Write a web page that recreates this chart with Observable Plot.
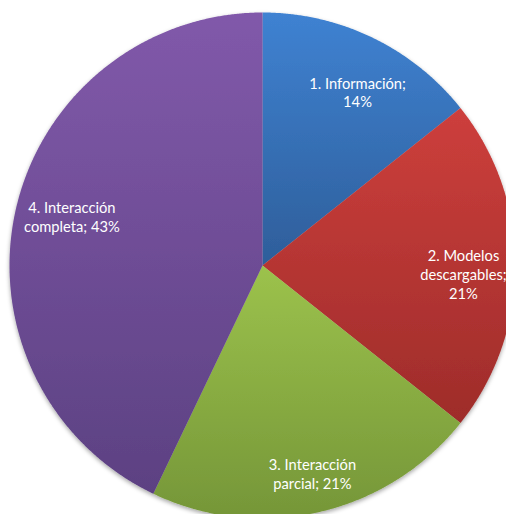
<!DOCTYPE html>
<html><head><meta charset="utf-8">
<script src="https://cdn.jsdelivr.net/npm/d3@7"></script>
<script src="https://cdn.jsdelivr.net/npm/@observablehq/plot@0.6"></script>
<style>body{margin:0;background:#fff;overflow:hidden}</style>
</head><body><div id="chart"></div>
<script>
// Data
const categoryLines = [["1. Información"], ["2. Modelos", "descargables"], ["3. Interacción", "parcial"], ["4. Interacción", "completa"]];
const values = [14.3, 21.4, 21.4, 42.9];
const valueSeparators = ["\n", "\n", " ", " "];
const colorsTop = ["#3f82d2", "#cd3f3c", "#9cc24c", "#8159aa"];
const colorsBottom = ["#2e5e9a", "#9e2c2a", "#759638", "#5c4182"];

// Layout
const W = 506, H = 514, cx = 262, cy = 265, R = 253;
const labelPolar = [[28.7, 0.782], [92.4, 0.795], [166.5, 0.846], [284.4, 0.778]]; // [deg, radius fraction]

const total = d3.sum(values);
const arcs = d3.pie().sort(null).value(d => d)(values);
const pts = [];
arcs.forEach((a, i) => {
  const n = Math.max(2, Math.ceil((a.endAngle - a.startAngle) / 0.005));
  pts.push({i, x: 0, y: 0, g: `url(#grad${i})`});
  for (let k = 0; k <= n; k++) {
    const t = a.startAngle + (a.endAngle - a.startAngle) * k / n;
    pts.push({i, x: Math.sin(t), y: Math.cos(t), g: `url(#grad${i})`});
  }
  pts.push({i, x: 0, y: 0, g: `url(#grad${i})`});
});
const labels = values.map((v, i) => {
  const [deg, rf] = labelPolar[i];
  const t = deg * Math.PI / 180;
  return {
    x: rf * Math.sin(t), y: rf * Math.cos(t),
    text: categoryLines[i].join("\n") + ";" + valueSeparators[i] + Math.round(v / total * 100) + "%"
  };
});

const plot = Plot.plot({
  width: W, height: H,
  marginTop: 0, marginRight: 0, marginBottom: 0, marginLeft: 0,
  x: {domain: [-cx / R, (W - cx) / R], axis: null},
  y: {domain: [-(H - cy) / R, cy / R], axis: null},
  color: {type: "identity"},
  style: {fontFamily: "Lato, 'Open Sans', sans-serif", background: "white"},
  marks: [
    Plot.line(pts, {x: "x", y: "y", z: "i", fill: "g", stroke: "none", curve: "linear"}),
    Plot.text(labels, {x: "x", y: "y", text: "text", fill: "white", fontSize: 14.7, lineHeight: 1.28, textAnchor: "middle"})
  ]
});

const svgNS = "http://www.w3.org/2000/svg";
const defs = document.createElementNS(svgNS, "defs");
colorsTop.forEach((c, i) => {
  const lg = document.createElementNS(svgNS, "linearGradient");
  lg.setAttribute("id", `grad${i}`);
  lg.setAttribute("x1", "0"); lg.setAttribute("y1", "0");
  lg.setAttribute("x2", "0"); lg.setAttribute("y2", "1");
  [[0, c], [1, colorsBottom[i]]].forEach(([o, col]) => {
    const s = document.createElementNS(svgNS, "stop");
    s.setAttribute("offset", o); s.setAttribute("stop-color", col);
    lg.appendChild(s);
  });
  defs.appendChild(lg);
});
const f = document.createElementNS(svgNS, "filter");
f.setAttribute("id", "pieShadow");
f.setAttribute("x", "-10%"); f.setAttribute("y", "-10%");
f.setAttribute("width", "120%"); f.setAttribute("height", "120%");
const ds = document.createElementNS(svgNS, "feDropShadow");
ds.setAttribute("dx", "0"); ds.setAttribute("dy", "2");
ds.setAttribute("stdDeviation", "2"); ds.setAttribute("flood-color", "#000"); ds.setAttribute("flood-opacity", "0.35");
f.appendChild(ds);
defs.appendChild(f);
plot.insertBefore(defs, plot.firstChild);
const lineG = plot.querySelector("g[aria-label='line']");
if (lineG) lineG.setAttribute("filter", "url(#pieShadow)");
document.getElementById("chart").appendChild(plot);
</script>
</body></html>
